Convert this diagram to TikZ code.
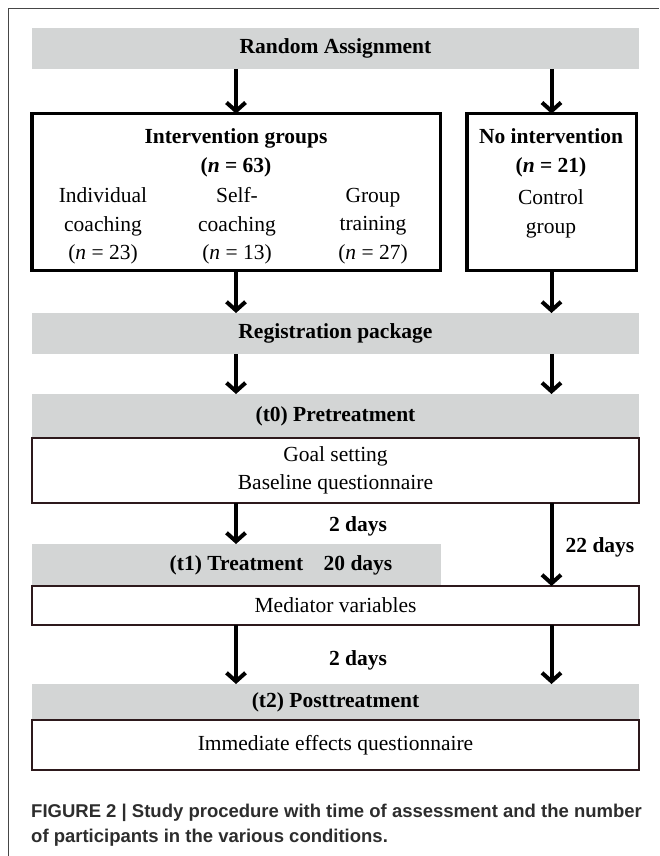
\documentclass[tikz,border=0pt]{standalone}
\usepackage{fontspec}
\setmainfont{Liberation Serif}
\setsansfont{Liberation Sans}
\usepackage{tikz}
\usepackage{xcolor}
\usetikzlibrary{arrows.meta, positioning}
\definecolor{cBar}{RGB}{211,213,213}
\definecolor{cLine}{RGB}{45,25,28}
\definecolor{cFrame}{RGB}{70,70,70}
\definecolor{cCap}{RGB}{45,45,45}
\newcommand{\bigsz}{\fontsize{21.5pt}{28.5pt}\selectfont}
\tikzset{
	bar/.style    ={rectangle, fill=cBar, minimum width=607pt, minimum height=41pt, inner sep=0pt, outer sep=0pt, text centered, font=\bigsz\bfseries},
	grpbox/.style ={rectangle, draw=black, line width=3.5pt, inner sep=0pt, outer sep=0pt},
	infobox/.style={rectangle, draw=cLine, line width=1.2pt, minimum width=607pt, inner sep=0pt, outer sep=0pt, align=center},
	lbl/.style    ={inner sep=0pt, align=center},
	bold/.style   ={font=\bigsz\bfseries},
	flow/.style   ={-{Straight Barb[length=8.5pt, width=19pt]}, line width=4pt},
}

\begin{document}
\begin{tikzpicture}[x=1pt, y=-1pt, font=\bigsz]
	\useasboundingbox (0,0) rectangle (659,856);
	\draw[cFrame, line width=1pt] (8,856) -- (8,9) -- (659,9);

	\node[bar, anchor=north west] (ra) at (32,28) {Random Assignment};
	% the two arms
	\node[grpbox, anchor=north west, minimum width=408.5pt, minimum height=156.5pt] (ivbox) at (31.75,113.75) {};
	\node[grpbox, anchor=north west, minimum width=169.5pt, minimum height=156.5pt] (nobox) at (466.75,113.75) {};
	\node[lbl, bold] (ivhead) at (236,153) {Intervention groups\\(\textit{n} = 63)};
	\node[lbl] (indiv) at (103,226) {Individual\\coaching\\(\textit{n} = 23)};
	\node[lbl] (selfc) at (237,226) {Self-\\coaching\\(\textit{n} = 13)};
	\node[lbl] (grptr) at (373,226) {Group\\training\\(\textit{n} = 27)};
	\node[lbl, bold] (nohead) at (551,153) {No intervention\\(\textit{n} = 21)};
	\node[lbl] (ctrl) at (551,214) {Control\\group};

	\node[bar, anchor=north west] (reg) at (32,313) {Registration package};
	% measurement points
	\node[bar, anchor=north west, minimum height=44pt] (pre) at (32,394) {(t0) Pretreatment};
	\node[infobox, below=0pt of pre, minimum height=65pt] (goal) {Goal setting\\Baseline questionnaire};
	\node[bar, anchor=north west, minimum width=409pt, minimum height=42pt] (treat) at (32,544) {(t1) Treatment};
	\node[lbl, bold] (twenty) at (358,565) {20 days};
	\node[infobox, below right=0pt and 0pt of treat.south west, minimum height=39pt] (med) {Mediator variables};
	\node[bar, anchor=north west, minimum height=36pt] (post) at (32,684) {(t2) Posttreatment};
	\node[infobox, below=0pt of post, minimum height=50pt] (imm) {Immediate effects questionnaire};

	\node[lbl, bold] (gapa) at (358,526) {2 days};
	\node[lbl, bold] (gapc) at (600,547) {22 days};
	\node[lbl, bold] (gapb) at (358,660) {2 days};

	\draw[flow] (ra.south -| ivbox.north) -- (ivbox.north);
	\draw[flow] (ra.south -| nobox.north) -- (nobox.north);
	\draw[flow] (ivbox.south) -- (reg.north -| ivbox.south);
	\draw[flow] (nobox.south) -- (reg.north -| nobox.south);
	\draw[flow] (reg.south -| ivbox.south) -- (pre.north -| ivbox.south);
	\draw[flow] (reg.south -| nobox.south) -- (pre.north -| nobox.south);
	\draw[flow] (goal.south -| ivbox.south) -- (treat.north -| ivbox.south);
	\draw[flow] (goal.south -| nobox.south) -- (med.north -| nobox.south);
	\draw[flow] (med.south -| ivbox.south) -- (post.north -| ivbox.south);
	\draw[flow] (med.south -| nobox.south) -- (post.north -| nobox.south);

	\node[anchor=north west, align=left, inner sep=0pt, text=cCap, font=\sffamily\bfseries\fontsize{18.5pt}{25pt}\selectfont] (cap) at (31,804) {FIGURE 2 | Study procedure with time of assessment and the number\\of participants in the various conditions.};
\end{tikzpicture}
\end{document}
